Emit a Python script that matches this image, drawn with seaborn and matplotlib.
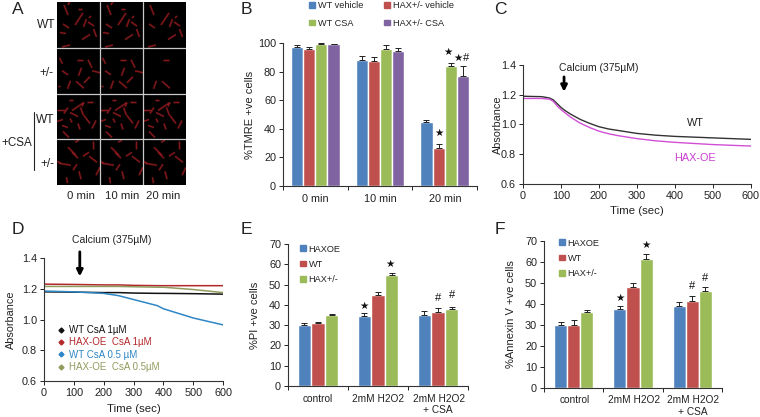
import numpy as np
import pandas as pd
import seaborn as sns
import matplotlib
matplotlib.use("Agg")
import matplotlib.pyplot as plt
from matplotlib.collections import LineCollection
from matplotlib.lines import Line2D
from matplotlib.patches import Patch
from matplotlib.transforms import blended_transform_factory

# ---------- data ----------
groups_b = ["0 min", "10 min", "20 min"]
wt_vehicle = [97, 88, 44.5]
hax_vehicle = [95.5, 87.5, 26.5]
wt_csa = [99.5, 96, 84]
hax_csa = [99, 94.5, 77]
err_b = [[1.5, 3, 2], [1.5, 3, 3], [0.5, 2.5, 2], [0.5, 2, 7]]
names_b = ["WT vehicle", "HAX+/- vehicle", "WT CSA", "HAX+/- CSA"]

groups_ef = ["control", "2mM H2O2", "2mM H2O2\n+ CSA"]
names_ef = ["HAXOE", "WT", "HAX+/-"]
e_haxoe = [30, 34.5, 35]
e_wt = [31, 45, 36.5]
e_het = [35, 54.5, 38]
err_e = [[1, 1.5, 2], [0.7, 1.5, 2], [0.7, 1, 0.7]]
f_haxoe = [30, 37.5, 39]
f_wt = [30, 48, 41.5]
f_het = [36, 61.5, 46]
err_f = [[1.5, 1.5, 2], [2.3, 2, 2.3], [1, 2.5, 2.3]]

t_c = [0, 50, 70, 80, 90, 100, 110, 125, 150, 175, 200, 225, 250, 300, 350, 400, 500, 600]
c_wt = [1.19, 1.187, 1.178, 1.165, 1.14, 1.115, 1.095, 1.07, 1.035, 1.008, 0.985, 0.97, 0.96, 0.94, 0.928, 0.92, 0.91, 0.90]
c_hax = [1.175, 1.175, 1.17, 1.155, 1.125, 1.10, 1.08, 1.05, 1.01, 0.98, 0.955, 0.938, 0.925, 0.905, 0.89, 0.88, 0.865, 0.855]

t_d = [0, 100, 200, 250, 300, 380, 400, 500, 600]
d_wt1 = [1.18, 1.178, 1.175, 1.175, 1.172, 1.17, 1.17, 1.168, 1.165]
d_hax1 = [1.23, 1.228, 1.225, 1.225, 1.222, 1.22, 1.22, 1.22, 1.22]
d_wt05 = [1.185, 1.18, 1.17, 1.155, 1.13, 1.09, 1.07, 1.01, 0.965]
d_hax05 = [1.215, 1.215, 1.215, 1.215, 1.213, 1.21, 1.21, 1.195, 1.175]
names_d = ["WT CsA 1µM", "HAX-OE  CsA 1µM", "WT CsA 0.5 µM", "HAX-OE  CsA 0.5µM"]

# Panel A rods: centre x, centre y, half dx, half dy, last column shown
rods_r1 = [(9, 8, 2, 5, 2), (22, 17, 4, -6, 2), (28, 21, 1.5, -4, 2), (34, 22, 3, 2, 2), (9, 24, 3, 2, 2),
           (6, 31, 3, 0.5, 1), (29, 35, 4, -2.5, 2), (38, 31, 1.5, 4, 2), (9, 44, 4, -1, 2), (23, 7, 2, 0, 1),
           (12, 1, 1, -2, 1), (33, 15, 1, -1, 2)]
rods_r2 = [(4, 13, 1.5, 3, 1), (23, 12, 3, 0, 2), (33, 16, 2, 4, 1), (39, 24, 4, 1, 1), (23, 24, 1.5, -4, 1),
           (30, 32, 3, -3, 1), (23, 37, 4, 3.5, 2), (12, 37, 1.5, -4, 2), (8, 25, 3, 2, 1), (2, 38, 1, 0, 1)]
rods_r3 = [(21, 13, 6, -4, 2), (26, 11, 1, -2, 2), (33, 8, 3, 0, 2), (14, 6, 2, 0, 2), (4, 16, 4, 0, 2),
           (9, 17, 2, -3, 2), (17, 21, 4, 2, 2), (25, 18, 1.5, 4, 2), (30, 26, 3, 4, 2), (37, 31, 2, -4, 2),
           (3, 27, 3, -1, 2), (14, 27, 1, 2, 2), (8, 33, 3, 1, 2), (9, 41, 3, 3, 2), (22, 33, 1, 3, 2)]
rods_r4 = [(20, 2, 2, -1, 2), (36, 6, 0, 4, 2), (15, 12, 4, 4, 2), (18, 16, 3, 3, 2), (29, 15, 3, -2, 2),
           (36, 20, 4, 3, 2), (8, 25, 6, 1, 2), (18, 28, 2, -3, 2), (2, 23, 2, 1, 2), (41, 32, 2, -4, 2),
           (23, 36, 1, 4, 2), (10, 41, 0.5, 3, 2)]

BLUE, RED, GREEN, PURPLE = "#4f81bd", "#c0504d", "#9bbb59", "#8064a2"
DARK = "#222222"

sns.set_theme(style="ticks")
plt.rcParams["font.family"] = ["Liberation Sans", "DejaVu Sans"]
plt.rcParams["text.color"] = DARK
plt.rcParams["axes.labelcolor"] = DARK
plt.rcParams["xtick.color"] = DARK
plt.rcParams["ytick.color"] = DARK

W, H = 760, 417
fig = plt.figure(figsize=(W / 100, H / 100), dpi=100)


def box(x0, y0, x1, y1):
    """Axes from pixel corners (left, top, right, bottom)."""
    return fig.add_axes([x0 / W, 1 - y1 / H, (x1 - x0) / W, (y1 - y0) / H])


def label(x, y, s, size=7.2, **kw):
    kw.setdefault("ha", "center")
    kw.setdefault("va", "center")
    return fig.text(x / W, 1 - y / H, s, fontsize=size, **kw)


def style(ax):
    sns.despine(ax=ax)
    for s in ("left", "bottom"):
        ax.spines[s].set_linewidth(0.8)
        ax.spines[s].set_color("#333333")
    ax.tick_params(labelsize=7.8, width=0.7, length=3, pad=2)


def ylabel_at(ax, text, xpx, size=8):
    ax.set_ylabel(text, fontsize=size)
    ax.yaxis.set_label_coords((xpx + 6) / W, 0.5,
                              transform=blended_transform_factory(fig.transFigure, ax.transAxes))


def bars(rect, groups, names, series, errs, colors, width, ylim, yticks, ylabel, ylabel_x):
    ax = box(*rect)
    df = pd.DataFrame({
        "group": np.tile(groups, len(names)),
        "series": np.repeat(names, len(groups)),
        "value": np.concatenate(series),
    })
    sns.barplot(data=df, x="group", y="value", hue="series", hue_order=names, palette=colors,
                width=width, saturation=1, errorbar=None, legend=False, ax=ax)
    for cont, e, c in zip(ax.containers, errs, colors):
        xs = [p.get_x() + p.get_width() / 2 for p in cont]
        ys = [p.get_height() for p in cont]
        ax.errorbar(xs, ys, yerr=[np.zeros(len(e)), e], fmt="none", ecolor="#222222",
                    elinewidth=0.7, capsize=2, capthick=0.7)
    ax.set_xlim(-0.5, len(groups) - 0.5)
    ax.set_ylim(*ylim)
    ax.set_yticks(yticks)
    ax.set_xticks(np.arange(len(groups) + 1) - 0.5)
    ax.set_xticklabels([])
    ax.set_xlabel("")
    ylabel_at(ax, ylabel, ylabel_x)
    style(ax)
    return ax


def mark(ax, x, y, s, size=7.5):
    ax.text(x, y, s, ha="center", va="center", fontsize=size, color="#111111", clip_on=False)


def square_legend(ax, names, colors, px, ncol=1, rowgap=1.0, colgap=1.0, size=6.6):
    hs = [Patch(color=c, label=n) for c, n in zip(colors, names)]
    ax.legend(handles=hs, loc="upper left", bbox_to_anchor=(px[0] / W, 1 - px[1] / H),
              bbox_transform=fig.transFigure, frameon=False, ncol=ncol, fontsize=size,
              handlelength=0.6, handleheight=0.6, handletextpad=0.35, labelspacing=rowgap,
              columnspacing=colgap, borderpad=0, borderaxespad=0)


# ---------- A ----------
axA = box(57, 2, 186, 185)
axA.set_facecolor("black")
axA.set_xlim(0, 129)
axA.set_ylim(183, 0)
axA.set_xticks([])
axA.set_yticks([])
for s in axA.spines.values():
    s.set_visible(False)
for r, rods in enumerate([rods_r1, rods_r2, rods_r3, rods_r4]):
    for c in range(3):
        segs = []
        for cx, cy, dx, dy, last in rods:
            if c <= last:
                ox, oy = c * 43, r * 45.75
                segs.append([(ox + cx - dx, oy + cy - dy), (ox + cx + dx, oy + cy + dy)])
        axA.add_collection(LineCollection(segs, colors="#8e1a1e", linewidths=1.8, alpha=0.3))
        axA.add_collection(LineCollection(segs, colors="#8e1a1e", linewidths=0.9, alpha=0.9))
for v in (43, 86):
    axA.axvline(v, color="#c8c8c8", lw=0.9)
for h in (45.75, 91.5, 137.25):
    axA.axhline(h, color="#c8c8c8", lw=0.9)
for x, s in zip((81, 122, 163), groups_b):
    label(x, 196, s, size=8.2)
label(46, 25, "WT", size=8.6)
label(46, 73, "+/-", size=8.6)
label(45, 120, "WT", size=8.6)
label(47, 164, "+/-", size=8.6)
label(1, 143, "+CSA", size=8.4, ha="left")
fig.add_artist(Line2D([33.5 / W, 33.5 / W], [1 - 112 / H, 1 - 170 / H], color="#222222", lw=0.8))

# ---------- B ----------
axB = bars((283, 43, 477, 186), groups_b, names_b, [wt_vehicle, hax_vehicle, wt_csa, hax_csa],
           err_b, [BLUE, RED, GREEN, PURPLE], 0.75, (0, 100), range(0, 101, 20), "%TMRE +ve cells", 249)
square_legend(axB, [names_b[0], names_b[2], names_b[1], names_b[3]], [BLUE, GREEN, RED, PURPLE], (309, 1),
              ncol=2, rowgap=0.95, colgap=2.3)
for x, s in zip((315, 380, 445), groups_b):
    label(x, 199, s, size=7.8)
mark(axB, 1.91, 37, "★")
mark(axB, 2.05, 94, "★")
mark(axB, 2.2, 89.5, "★")
mark(axB, 2.33, 89.5, "#", size=8)

# ---------- C ----------
axC = box(523, 65, 751, 184)
df_c = pd.DataFrame({"t": t_c * 2, "v": c_wt + c_hax, "s": ["WT"] * len(t_c) + ["HAX-OE"] * len(t_c)})
sns.lineplot(data=df_c, x="t", y="v", hue="s", palette=["#333333", "#d14fd6"], linewidth=1.0,
             legend=False, errorbar=None, ax=axC)
axC.set(xlim=(0, 600), ylim=(0.6, 1.4), xticks=range(0, 601, 100), yticks=[0.6, 0.8, 1.0, 1.2, 1.4])
axC.set_xlabel("Time (sec)", fontsize=8.2, labelpad=4)
ylabel_at(axC, "Absorbance", 497, size=7.8)
style(axC)
axC.text(455, 1.01, "WT", fontsize=7.8, ha="center", va="center")
axC.text(453, 0.775, "HAX-OE", fontsize=7.8, ha="center", va="center", color="#c93fce")
axC.text(200, 1.38, "Calcium (375µM)", fontsize=7.5, ha="center", va="center")
axC.annotate("", xy=(108, 1.22), xytext=(108, 1.32),
             arrowprops=dict(arrowstyle="-|>", color="black", lw=2, mutation_scale=9, shrinkA=0, shrinkB=0))

# ---------- D ----------
axD = box(44, 258, 223, 381)
cols_d = ["#111111", "#b3282d", "#2f86c5", "#8f9c5d"]
df_d = pd.DataFrame({"t": t_d * 4, "v": d_wt1 + d_hax1 + d_wt05 + d_hax05, "s": np.repeat(names_d, len(t_d))})
sns.lineplot(data=df_d, x="t", y="v", hue="s", hue_order=names_d, palette=cols_d, linewidth=1.1,
             legend=False, errorbar=None, ax=axD)
axD.set(xlim=(0, 600), ylim=(0.6, 1.4), xticks=range(0, 601, 100), yticks=[0.6, 0.8, 1.0, 1.2, 1.4])
axD.set_xlabel("Time (sec)", fontsize=8.2, labelpad=4)
ylabel_at(axD, "Absorbance", 10, size=7.8)
style(axD)
hs = [Line2D([], [], marker="D", ms=2.5, color=c, ls="none", label=n) for c, n in zip(cols_d, names_d)]
axD.legend(handles=hs, loc="upper left", bbox_to_anchor=(57 / W, 1 - 325 / H), bbox_transform=fig.transFigure,
           frameon=False, fontsize=7, labelcolor=["#111111", "#b3282d", "#2f86c5", "#8f9c5d"], handlelength=0.8,
           handletextpad=0.4, labelspacing=0.25, borderpad=0, borderaxespad=0)
label(112, 240, "Calcium (375µM)", size=7.5)
axD.annotate("", xy=(120, 1.28), xytext=(120, 1.44), annotation_clip=False,
             arrowprops=dict(arrowstyle="-|>", color="black", lw=2, mutation_scale=9, shrinkA=0, shrinkB=0))

# ---------- E ----------
colors_ef = [BLUE, RED, GREEN]
axE = bars((288, 244, 468, 386), groups_ef, names_ef, [e_haxoe, e_wt, e_het], err_e, colors_ef, 0.68,
           (0, 70), range(0, 71, 10), "%PI +ve cells", 254)
square_legend(axE, names_ef, colors_ef, (300, 244.5), rowgap=0.68)
for x, y, s in zip((318, 378, 439), (399, 399, 399), ("control", "2mM H2O2", "2mM H2O2")):
    label(x, y, s, size=7.3)
label(438, 410, "+ CSA", size=7.3)
mark(axE, 0.77, 39.4, "★")
mark(axE, 1.2, 60, "★")
mark(axE, 2.0, 43.3, "#", size=8)
mark(axE, 2.23, 44.8, "#", size=8)

# ---------- F ----------
axF = bars((544, 241, 722, 388), groups_ef, names_ef, [f_haxoe, f_wt, f_het], err_f, colors_ef, 0.66,
           (0, 70), range(0, 71, 10), "%Annexin V +ve cells", 510)
square_legend(axF, names_ef, colors_ef, (559, 238.5), rowgap=0.68)
for x, y, s in zip((575, 634, 693), (400, 400, 400), ("control", "2mM H2O2", "2mM H2O2")):
    label(x, y, s, size=7.3)
label(693, 412, "+ CSA", size=7.3)
mark(axF, 0.78, 43, "★")
mark(axF, 1.22, 68, "★")
mark(axF, 2.0, 48.5, "#", size=8)
mark(axF, 2.22, 52.5, "#", size=8)

# ---------- panel letters ----------
for x, y, s in [(18, 10, "A"), (246, 10, "B"), (500, 10, "C"), (18, 230, "D"), (246, 230, "E"), (500, 230, "F")]:
    label(x, y, s, size=12.5)

fig.savefig("out.png", dpi=100)
